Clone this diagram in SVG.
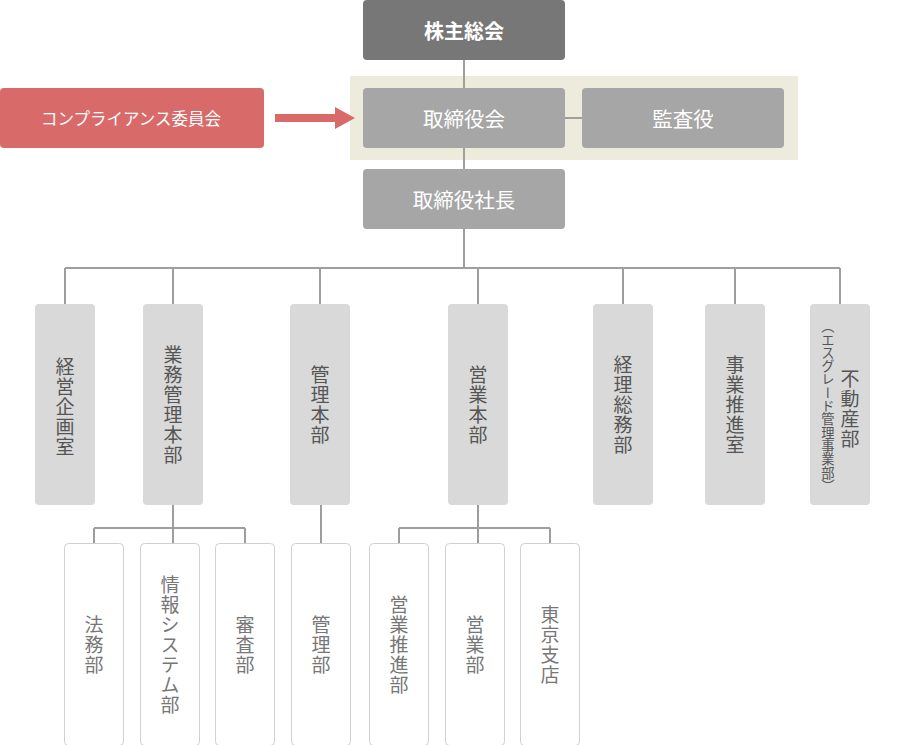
<svg xmlns="http://www.w3.org/2000/svg" width="924" height="745" viewBox="0 0 924 745">
<style>
text{font-family:"Noto Sans CJK JP","Noto Sans",sans-serif;}
.top{fill:#a6a6a6;}
.h{fill:#fff;font-size:20.5px;text-anchor:middle;dominant-baseline:central;}
.col rect{fill:#d9d9d9;}
.col text{fill:#555;font-size:19px;writing-mode:vertical-rl;text-anchor:middle;letter-spacing:1px;}
.sub rect{fill:#fff;stroke:#d0d0d0;stroke-width:1;}
.sub text{fill:#777;font-size:19px;writing-mode:vertical-rl;text-anchor:middle;letter-spacing:1px;}
.ln{stroke:#9e9e9e;stroke-width:2;fill:none;}
</style>
<rect x="350" y="76" width="448" height="84" fill="#ecebdc"/>
<g id="connectors">
<path class="ln" d="M464 60V88M464 148V169M565 118H582M464 229V268M65 268H840M65 268V304M173 268V304M320 268V304M478 268V304M623 268V304M735 268V304M840 268V304"/>
<path class="ln" d="M173 505V528M94 528H245M94 528V543M245 528V543M173 528V543M321 505V543M478 505V528M399 528H550M399 528V543M550 528V543M478 528V543"/>
<g id="arrow" fill="#d96a6a"><rect x="275" y="114" width="61" height="8"/><polygon points="335,107 355,118 335,129"/></g>
</g>
<g id="n-kabunushi"><rect x="363" y="0" width="202" height="60" rx="4" fill="#777"/><text class="h" x="464" y="30" style="font-size:20px;font-weight:bold">株主総会</text></g>
<g id="n-compliance"><rect x="0" y="88" width="264" height="60" rx="4" fill="#d96a6a"/><text class="h" x="131" y="118" style="font-size:16.5px">コンプライアンス委員会</text></g>
<g id="n-board"><rect class="top" x="363" y="88" width="202" height="60" rx="4"/><text class="h" x="464" y="118">取締役会</text></g>
<g id="n-audit"><rect class="top" x="582" y="88" width="202" height="60" rx="4"/><text class="h" x="683" y="118">監査役</text></g>
<g id="n-president"><rect class="top" x="363" y="169" width="202" height="60" rx="4"/><text class="h" x="464" y="199">取締役社長</text></g>
<g id="n-keiei" class="col"><rect x="35" y="304" width="60" height="201" rx="4"/><text x="65" y="407">経営企画室</text></g>
<g id="n-gyomu" class="col"><rect x="143" y="304" width="60" height="201" rx="4"/><text x="173" y="405">業務管理本部</text></g>
<g id="n-kanri" class="col"><rect x="290" y="304" width="60" height="201" rx="4"/><text x="320" y="405">管理本部</text></g>
<g id="n-eigyo" class="col"><rect x="448" y="304" width="60" height="201" rx="4"/><text x="478" y="405">営業本部</text></g>
<g id="n-keiri" class="col"><rect x="593" y="304" width="60" height="201" rx="4"/><text x="623" y="405">経理総務部</text></g>
<g id="n-jigyo" class="col"><rect x="705" y="304" width="60" height="201" rx="4"/><text x="735" y="405">事業推進室</text></g>
<g id="n-fudosan" class="col"><rect x="810" y="304" width="60" height="201" rx="4"/><text x="850" y="409">不動産部</text><text x="828" y="406" style="font-size:13.3px;letter-spacing:0">（エスグレード管理事業部）</text></g>
<g id="n-homu" class="sub"><rect x="64.5" y="543.5" width="59" height="202" rx="4"/><text x="94" y="645">法務部</text></g>
<g id="n-joho" class="sub"><rect x="140.5" y="543.5" width="59" height="202" rx="4"/><text x="170" y="645">情報システム部</text></g>
<g id="n-shinsa" class="sub"><rect x="215.5" y="543.5" width="59" height="202" rx="4"/><text x="245" y="645">審査部</text></g>
<g id="n-kanribu" class="sub"><rect x="291.5" y="543.5" width="59" height="202" rx="4"/><text x="321" y="645">管理部</text></g>
<g id="n-eigyosuishin" class="sub"><rect x="369.5" y="543.5" width="59" height="202" rx="4"/><text x="399" y="645">営業推進部</text></g>
<g id="n-eigyobu" class="sub"><rect x="445.5" y="543.5" width="59" height="202" rx="4"/><text x="475" y="645">営業部</text></g>
<g id="n-tokyo" class="sub"><rect x="520.5" y="543.5" width="59" height="202" rx="4"/><text x="550" y="645">東京支店</text></g>
</svg>
